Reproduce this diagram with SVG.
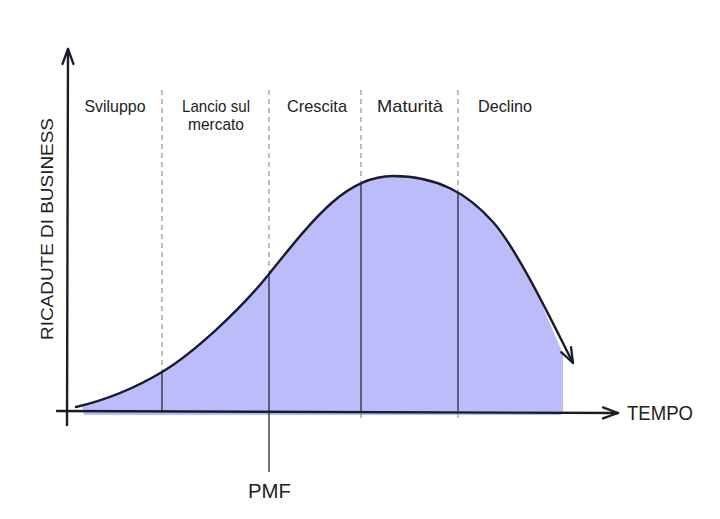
<svg xmlns="http://www.w3.org/2000/svg" width="720" height="519" viewBox="0 0 720 519">
  <defs>
    <marker id="arr" viewBox="0 0 20 20" refX="18" refY="10" markerWidth="20" markerHeight="20" markerUnits="userSpaceOnUse" orient="auto">
      <path d="M3,4.5 L18,10 L3,15.5" fill="none" stroke="#1c1c28" stroke-width="2.3" stroke-linecap="round" stroke-linejoin="round"/>
    </marker>
    <style>
      .ax { fill: none; stroke: #1c1c28; stroke-width: 2.4; stroke-linecap: round; }
      .dash { stroke: #9a9a9a; stroke-width: 1.3; stroke-dasharray: 5 4; fill: none; }
      .solid { stroke: #2a2a36; stroke-width: 1.3; fill: none; }
      .lbl { font-family: "Liberation Sans", "DejaVu Sans", sans-serif; font-size: 17px; fill: #222; }
      .big { font-family: "Liberation Sans", "DejaVu Sans", sans-serif; font-size: 21px; fill: #222; }
    </style>
  </defs>
  <rect width="720" height="519" fill="#ffffff"/>

  <g id="area">
    <path d="M82,406 C106,400 132,390 162,372 C192,354 239,311.5 269,274 C317,214 348,176 393,176 C438,176 468,194 493,222 C505.5,236 521,262.5 535.6,289.9 L563,354 L563,411 Q563,415 559,415 L84,415 Z" fill="#bbbcfa"/>
  </g>

  <g id="phases">
    <line class="dash" x1="162" y1="90" x2="162" y2="372"/>
    <line class="solid" x1="162" y1="372" x2="162" y2="411"/>
    <line class="dash" x1="269" y1="90" x2="269" y2="274"/>
    <line class="solid" x1="269" y1="274" x2="269" y2="472"/>
    <line class="dash" x1="361" y1="90" x2="361" y2="184"/>
    <line class="solid" x1="361" y1="184" x2="361" y2="411"/>
    <line class="dash" x1="361" y1="413" x2="361" y2="422"/>
    <line class="dash" x1="458" y1="90" x2="458" y2="193"/>
    <line class="solid" x1="458" y1="193" x2="458" y2="411"/>
    <line class="dash" x1="458" y1="413" x2="458" y2="422"/>
  </g>

  <g id="connectors">
    <path class="ax" d="M67,425 L68,49" marker-end="url(#arr)"/>
    <path class="ax" d="M57,411 L618,413" marker-end="url(#arr)"/>
    <path class="ax" d="M76,407 C106,400 132,390 162,372 C192,354 239,311.5 269,274 C317,214 348,176 393,176 C438,176 468,194 493,222 C518,250 555,328 573,363" marker-end="url(#arr)"/>
  </g>

  <g id="labels">
    <text class="lbl" x="115" y="112" text-anchor="middle" textLength="61" lengthAdjust="spacingAndGlyphs">Sviluppo</text>
    <text class="lbl" x="216" y="112" text-anchor="middle" textLength="68" lengthAdjust="spacingAndGlyphs">Lancio sul</text>
    <text class="lbl" x="216" y="130" text-anchor="middle" textLength="56" lengthAdjust="spacingAndGlyphs">mercato</text>
    <text class="lbl" x="317" y="112" text-anchor="middle" textLength="60" lengthAdjust="spacingAndGlyphs">Crescita</text>
    <text class="lbl" x="410" y="112" text-anchor="middle" textLength="66" lengthAdjust="spacingAndGlyphs">Maturità</text>
    <text class="lbl" x="505" y="112" text-anchor="middle" textLength="54" lengthAdjust="spacingAndGlyphs">Declino</text>
  </g>

  <g id="axis-labels">
    <text class="big" x="0" y="0" transform="translate(53,229) rotate(-90)" text-anchor="middle" style="font-size:16px" textLength="222" lengthAdjust="spacingAndGlyphs">RICADUTE DI BUSINESS</text>
    <text class="big" x="627" y="420" textLength="66" lengthAdjust="spacingAndGlyphs">TEMPO</text>
    <text class="big" x="248" y="498" textLength="43" lengthAdjust="spacingAndGlyphs">PMF</text>
  </g>
</svg>
